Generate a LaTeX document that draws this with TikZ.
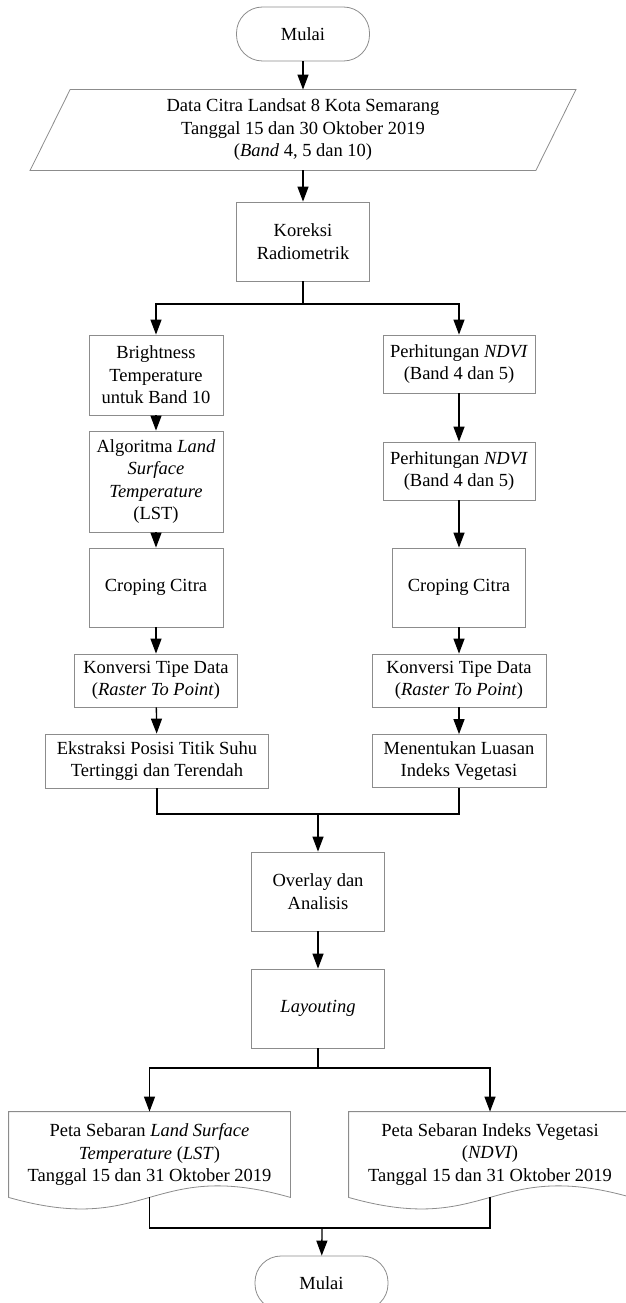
\documentclass[tikz,border=0pt]{standalone}
\usepackage{fontspec}
\setmainfont{Liberation Serif}
\usetikzlibrary{arrows.meta}

\tikzset{
    boxnode/.style={draw=black!45, line width=0.8pt, align=center, inner sep=2pt,
        font=\fontsize{18.5}{22.5}\selectfont},
    termnode/.style={boxnode, rounded corners=26pt},
    flatnode/.style={boxnode, draw=none},
    outline/.style={draw=black!45, line width=0.8pt},
    link/.style={line width=1.3pt},
    arr/.style={link, -{Triangle[width=11pt,length=15pt]}}
}

\begin{document}
\begin{tikzpicture}[x=1pt, y=-1pt]
        \useasboundingbox (0,0) rectangle (625,1303);

        \node[termnode, minimum width=133pt, minimum height=54pt] (start) at (303, 34) {Mulai};
        \node[flatnode, minimum width=505pt, minimum height=80pt] (data) at (303, 130)
            {Data Citra Landsat 8 Kota Semarang\\Tanggal 15 dan 30 Oktober 2019\\(\textit{Band} 4, 5 dan 10)};
        \draw[outline] ([xshift=20pt]data.north west) -- ([xshift=20pt]data.north east)
            -- ([xshift=-20pt]data.south east) -- ([xshift=-20pt]data.south west) -- cycle;
        \node[boxnode, minimum width=133pt, minimum height=79pt] (koreksi) at (303, 241.5) {Koreksi\\Radiometrik};

        % kolom kiri (LST)
        \node[boxnode, minimum width=134pt, minimum height=80pt] (bright) at (156, 375) {Brightness\\Temperature\\untuk Band 10};
        \node[boxnode, minimum width=134pt, minimum height=101pt] (algo) at (156, 481.5)
            {Algoritma \textit{Land}\\\textit{Surface}\\\textit{Temperature}\\(LST)};
        \node[boxnode, minimum width=134pt, minimum height=79pt] (cropL) at (156, 587.5) {Croping Citra};
        \node[boxnode, minimum width=163pt, minimum height=53pt] (konvL) at (156, 680.5) {Konversi Tipe Data\\(\textit{Raster To Point})};
        \node[boxnode, minimum width=223pt, minimum height=54pt] (ekstr) at (157, 761) {Ekstraksi Posisi Titik Suhu\\Tertinggi dan Terendah};

        % kolom kanan (NDVI)
        \node[boxnode, minimum width=152pt, minimum height=58pt] (perh1) at (459, 364) {Perhitungan \textit{NDVI}\\(Band 4 dan 5)};
        \node[boxnode, minimum width=152pt, minimum height=58pt] (perh2) at (459, 471) {Perhitungan \textit{NDVI}\\(Band 4 dan 5)};
        \node[boxnode, minimum width=133pt, minimum height=79pt] (cropR) at (459, 587.5) {Croping Citra};
        \node[boxnode, minimum width=174pt, minimum height=53pt] (konvR) at (459, 680.5) {Konversi Tipe Data\\(\textit{Raster To Point})};
        \node[boxnode, minimum width=174pt, minimum height=53pt] (menent) at (459, 761) {Menentukan Luasan\\Indeks Vegetasi};

        \node[boxnode, minimum width=133pt, minimum height=79pt] (overlay) at (318, 891.5) {Overlay dan\\Analisis};
        \node[boxnode, minimum width=133pt, minimum height=79pt] (layout) at (318, 1008.5) {\textit{Layouting}};

        % dokumen hasil
        \node[flatnode, minimum width=281pt, minimum height=85pt] (docL) at (149.5, 1154.5)
            {Peta Sebaran \textit{Land Surface}\\\textit{Temperature} (\textit{LST})\\Tanggal 15 dan 31 Oktober 2019};
        \node[flatnode, minimum width=282pt, minimum height=85pt] (docR) at (490, 1154.5)
            {Peta Sebaran Indeks Vegetasi\\(\textit{NDVI})\\Tanggal 15 dan 31 Oktober 2019};
        \foreach \d in {docL, docR} {
            \draw[outline] (\d.north west) -- (\d.south west)
                .. controls ([xshift=140pt, yshift=-40pt]\d.south west) and ([xshift=-140pt, yshift=40pt]\d.south east) .. (\d.south east)
                -- (\d.north east) -- cycle;
        }

        \node[termnode, minimum width=133pt, minimum height=54pt] (finish) at (321.5, 1283) {Mulai};

        \coordinate (split1) at (303, 304);
        \coordinate (merge1) at (318, 814);
        \coordinate (split2) at (318, 1068);
        \coordinate (merge2) at (322, 1228);

        \draw[arr] (start) -- (data);
        \draw[arr] (data) -- (koreksi);
        \draw[link] (koreksi) -- (split1);
        \draw[arr] (split1) -| (bright);
        \draw[arr] (split1) -| (perh1);

        \draw[arr] (bright) -- (algo);
        \draw[arr] (algo) -- (cropL);
        \draw[arr] (cropL) -- (konvL);
        \draw[arr] (konvL) -- (ekstr);

        \draw[arr] (perh1) -- (perh2);
        \draw[arr] (perh2) -- (cropR);
        \draw[arr] (cropR) -- (konvR);
        \draw[arr] (konvR) -- (menent);

        \draw[link] (ekstr) |- (merge1);
        \draw[link] (menent) |- (merge1);
        \draw[arr] (merge1) -- (overlay);
        \draw[arr] (overlay) -- (layout);

        \draw[link] (layout) -- (split2);
        \draw[arr] (split2) -| (docL);
        \draw[arr] (split2) -| (docR);

        \draw[link] (docL.south) |- (merge2);
        \draw[link] (docR.south) |- (merge2);
        \draw[arr] (merge2) -- (finish);
    \end{tikzpicture}
\end{document}
